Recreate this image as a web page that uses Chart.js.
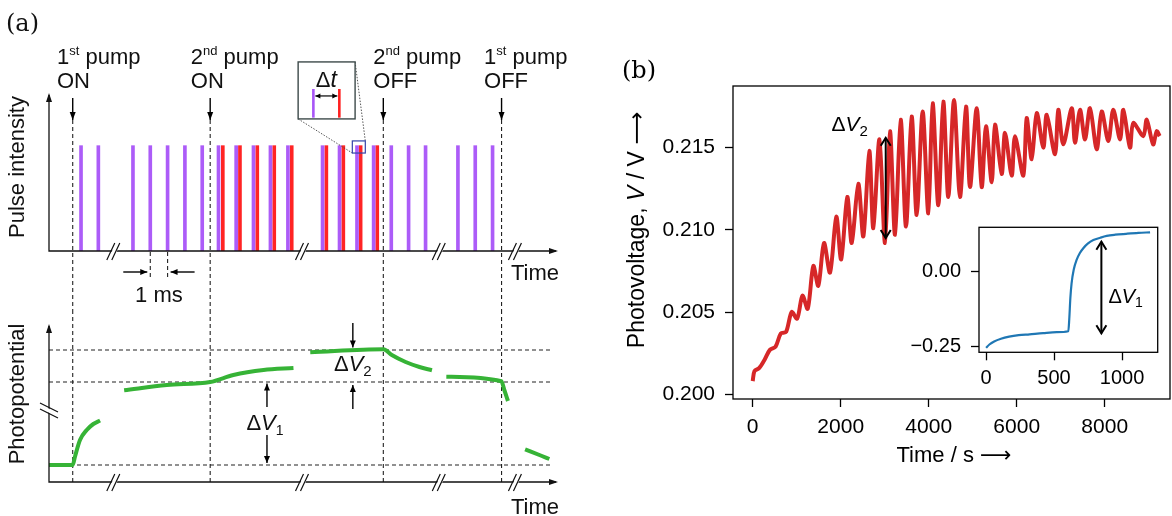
<!DOCTYPE html>
<html>
<head>
<meta charset="utf-8">
<script src="https://cdn.jsdelivr.net/npm/chart.js@4/dist/chart.umd.min.js"></script>
<style>
html, body { margin: 0; padding: 0; background: #fff; }
#wrap { position: relative; width: 1172px; height: 516px; overflow: hidden; }
canvas { position: absolute; }
</style>
</head>
<body>
<div id="wrap">
  <canvas id="pulse" width="600" height="310" style="left:0;top:0"></canvas>
  <canvas id="photo" width="600" height="206" style="left:0;top:310px"></canvas>
  <canvas id="volt" width="572" height="516" style="left:600px;top:0"></canvas>
  <canvas id="inset" width="292" height="220" style="left:880px;top:200px"></canvas>
</div>
<script>
// ---- (a) schéma : axe des temps en ms ----
const pumpEvents = [1.37, 9.31, 19.31, 26.14];
const pumpOrdinal = ['1', '2', '2', '1'];
const pumpSuffix = ['st', 'nd', 'nd', 'st'];
const pumpState = ['ON', 'ON', 'OFF', 'OFF'];
const pumpLabelX = [0.46, 8.19, 18.73, 25.13];
const purplePulses = [1.85, 2.85, 4.85, 5.85, 6.85, 7.85, 8.85, 9.79, 10.81, 11.81, 12.79, 13.8,
  15.8, 16.78, 17.79, 18.75, 19.77, 20.77, 21.75, 23.62, 24.62, 25.62];
const redPulses = [10.04, 11.03, 12.03, 13.01, 14.02, 16.02, 17.0, 18.0, 18.96];
const axisBreaks = [3.8, 14.7, 22.6, 27.0];
const oneMs = [5.85, 6.85];

// photopotentiel (unités arbitraires), null = trou
const greenT = [0, 1.37, 1.5, 1.79, 2.18, 2.56, 2.95, 3.6, 4.34, 6.8, 9.31, 10.65, 12.39, 14.12, 14.6,
  15.09, 19.32, 19.8, 20.6, 21.4, 22.12, 22.5, 22.95, 26.13, 26.3, 26.51, 27.0, 27.5, 28.4, 28.9];
const greenV = [0, 0, 0.83, 2.5, 3.5, 4.1, 4.45, null, 7.47, 8.0, 8.3, 9.0, 9.5, 9.7, null,
  11.27, 11.57, 11.0, 10.3, 9.8, 9.47, null, 8.83, 8.37, 7.5, 6.4, null, 1.57, 0.95, 0.6];
const levels = [0, 8.3, 11.5];

// ---- (b) photovoltage ----
const redT = [0, 40, 150, 270, 390, 520, 640, 760, 886, 1010, 1130, 1250, 1378, 1491, 1620, 1757,
  1900, 2010, 2150, 2250, 2400, 2514, 2650, 2741, 2880, 3007, 3120, 3234, 3363, 3484, 3613, 3727,
  3863, 3991, 4090, 4218, 4332, 4445, 4575, 4711, 4848, 4939, 5090, 5205, 5302, 5432, 5507, 5659,
  5734, 5886, 5961, 6150, 6227, 6341, 6455, 6605, 6682, 6870, 6945, 7059, 7250, 7325, 7439, 7552,
  7666, 7818, 7932, 8082, 8195, 8348, 8423, 8575, 8650, 8877, 8955, 9100, 9182, 9250];
const redV = [0.2008, 0.2014, 0.2016, 0.2021, 0.2027, 0.2029, 0.2037, 0.2038, 0.2050, 0.2046,
  0.2060, 0.2052, 0.2078, 0.2066, 0.2092, 0.2074, 0.2108, 0.2082, 0.2120, 0.2092, 0.2128, 0.2096,
  0.2148, 0.2101, 0.2155, 0.2092, 0.2160, 0.2097, 0.2167, 0.2102, 0.2169, 0.2109, 0.2172, 0.2110,
  0.2177, 0.2115, 0.2178, 0.2120, 0.2179, 0.2120, 0.2175, 0.2126, 0.2174, 0.2126, 0.2163, 0.2129,
  0.2164, 0.2134, 0.2159, 0.2133, 0.2157, 0.2133, 0.2168, 0.2143, 0.2171, 0.2150, 0.2170, 0.2146,
  0.2173, 0.2152, 0.2174, 0.2153, 0.2173, 0.2155, 0.2174, 0.2149, 0.2172, 0.2154, 0.2173, 0.2155,
  0.2173, 0.2150, 0.2165, 0.2157, 0.2167, 0.2152, 0.2160, 0.2157];
const voltXTicks = [0, 2000, 4000, 6000, 8000];
const voltYTicks = [0.200, 0.205, 0.210, 0.215];
const dV2 = { t: 3023, lo: 0.2095, hi: 0.2156 };

// encart
const blueT = [0, 25, 60, 110, 170, 240, 320, 420, 520, 605, 612, 620, 629, 645, 666, 690, 715, 750,
  789, 840, 887, 950, 1030, 1120, 1206];
const blueV = [-0.256, -0.245, -0.235, -0.226, -0.219, -0.214, -0.211, -0.207, -0.204, -0.201,
  -0.16, -0.09, -0.041, 0.005, 0.037, 0.060, 0.076, 0.092, 0.103, 0.111, 0.117, 0.121, 0.124,
  0.127, 0.129];
const insetXTicks = [0, 500, 1000];
const insetYTicks = [-0.25, 0];
const dV1 = { t: 848, lo: -0.2077, hi: 0.0977 };

const SANS = '"Liberation Sans", Arial, sans-serif';
const SERIF = '"DejaVu Serif", serif';
const f = (s, style) => (style || '') + ' ' + s + 'px ' + SANS;

// petits outils de dessin
function runs(ctx, x, y, parts, align) {
  let w = 0;
  parts.forEach(p => { ctx.font = p[1]; w += ctx.measureText(p[0]).width; });
  let cx = align === 'center' ? x - w / 2 : align === 'right' ? x - w : x;
  ctx.textAlign = 'left';
  ctx.textBaseline = 'alphabetic';
  parts.forEach(p => { ctx.font = p[1]; ctx.fillText(p[0], cx, y + (p[2] || 0)); cx += ctx.measureText(p[0]).width; });
}
function head(ctx, x, y, ang, len, wid, open) {
  ctx.save();
  ctx.translate(x, y); ctx.rotate(ang);
  ctx.beginPath();
  ctx.moveTo(-len, -wid); ctx.lineTo(0, 0); ctx.lineTo(-len, wid);
  if (open) { ctx.stroke(); } else { ctx.closePath(); ctx.fill(); }
  ctx.restore();
}
function arrow(ctx, x1, y1, x2, y2, opt) {
  opt = opt || {};
  ctx.save();
  ctx.strokeStyle = '#000'; ctx.fillStyle = '#000';
  ctx.lineWidth = opt.lw || 1.4;
  ctx.setLineDash([]);
  ctx.beginPath(); ctx.moveTo(x1, y1); ctx.lineTo(x2, y2); ctx.stroke();
  const a = Math.atan2(y2 - y1, x2 - x1);
  head(ctx, x2, y2, a, opt.len || 7, opt.wid || 3, opt.open);
  if (opt.both) head(ctx, x1, y1, a + Math.PI, opt.len || 7, opt.wid || 3, opt.open);
  ctx.restore();
}
function breakH(ctx, x, y) {
  ctx.save();
  ctx.fillStyle = '#fff';
  ctx.beginPath();
  ctx.moveTo(x - 7, y + 9); ctx.lineTo(x + 1, y - 8); ctx.lineTo(x + 6, y - 8); ctx.lineTo(x - 2, y + 9);
  ctx.closePath(); ctx.fill();
  ctx.strokeStyle = '#111'; ctx.lineWidth = 1.2;
  ctx.beginPath();
  ctx.moveTo(x - 8, y + 9); ctx.lineTo(x, y - 8);
  ctx.moveTo(x - 3, y + 9); ctx.lineTo(x + 5, y - 8);
  ctx.stroke();
  ctx.restore();
}
function breakV(ctx, x, y) {
  ctx.save();
  ctx.fillStyle = '#fff';
  ctx.beginPath();
  ctx.moveTo(x - 9, y - 6); ctx.lineTo(x + 8, y + 3); ctx.lineTo(x + 8, y + 7); ctx.lineTo(x - 9, y - 2);
  ctx.closePath(); ctx.fill();
  ctx.strokeStyle = '#111'; ctx.lineWidth = 1.2;
  ctx.beginPath();
  ctx.moveTo(x - 9, y - 7); ctx.lineTo(x + 9, y + 2);
  ctx.moveTo(x - 9, y - 1); ctx.lineTo(x + 9, y + 8);
  ctx.stroke();
  ctx.restore();
}
function axesWithArrows(ctx, area) {
  ctx.save();
  ctx.strokeStyle = '#111'; ctx.fillStyle = '#111'; ctx.lineWidth = 1.3;
  ctx.beginPath();
  ctx.moveTo(area.left, area.top + 2); ctx.lineTo(area.left, area.bottom); ctx.lineTo(area.right - 2, area.bottom);
  ctx.stroke();
  head(ctx, area.left, area.top, -Math.PI / 2, 9, 3, false);
  head(ctx, area.right, area.bottom, 0, 9, 3, false);
  ctx.restore();
}
function dashed(ctx, x1, y1, x2, y2) {
  ctx.save();
  ctx.strokeStyle = '#222'; ctx.lineWidth = 1.1; ctx.setLineDash([4, 3]);
  ctx.beginPath(); ctx.moveTo(x1, y1); ctx.lineTo(x2, y2); ctx.stroke();
  ctx.restore();
}

// ---- (a) haut : intensité des impulsions ----
const pulseDeco = {
  id: 'pulseDeco',
  beforeDatasetsDraw(chart) {
    const { ctx, scales: { x, y } } = chart;
    pumpEvents.forEach(t => dashed(ctx, x.getPixelForValue(t), y.getPixelForValue(1.244), x.getPixelForValue(t), chart.height));
    oneMs.forEach(t => dashed(ctx, x.getPixelForValue(t), y.getPixelForValue(0) + 1, x.getPixelForValue(t), y.getPixelForValue(0) + 26));
  },
  afterDraw(chart) {
    const { ctx, chartArea, scales: { x, y } } = chart;
    axesWithArrows(ctx, chartArea);
    axisBreaks.forEach(t => breakH(ctx, x.getPixelForValue(t), chartArea.bottom));
    ctx.fillStyle = '#111';
    // étiquettes des pompes
    pumpEvents.forEach((t, i) => {
      const px = x.getPixelForValue(t);
      arrow(ctx, px, y.getPixelForValue(1.5) + 5, px, y.getPixelForValue(1.244), { len: 8, wid: 3 });
      const lx = x.getPixelForValue(pumpLabelX[i]);
      ctx.fillStyle = '#111';
      runs(ctx, lx, 64, [[pumpOrdinal[i], f(22)], [pumpSuffix[i], f(13), -9], [' pump', f(22)]], 'left');
      runs(ctx, lx, 88, [[pumpState[i], f(22)]], 'left');
    });
    // repère 1 ms
    const b = y.getPixelForValue(0);
    arrow(ctx, x.getPixelForValue(oneMs[0]) - 27, b + 21, x.getPixelForValue(oneMs[0]) - 3, b + 21, { len: 7, wid: 3 });
    arrow(ctx, x.getPixelForValue(oneMs[1]) + 27, b + 21, x.getPixelForValue(oneMs[1]) + 3, b + 21, { len: 7, wid: 3 });
    ctx.fillStyle = '#111';
    runs(ctx, (x.getPixelForValue(oneMs[0]) + x.getPixelForValue(oneMs[1])) / 2, b + 51, [['1 ms', f(22)]], 'center');
    runs(ctx, chartArea.right - 47, b + 29, [['Time', f(22)]], 'left');
    // encart Δt
    const zx0 = x.getPixelForValue(17.52), zx1 = x.getPixelForValue(18.27);
    const zy0 = y.getPixelForValue(1.045), zy1 = y.getPixelForValue(0.93);
    const bx0 = x.getPixelForValue(14.39), bx1 = x.getPixelForValue(17.68);
    const by0 = y.getPixelForValue(1.795), by1 = y.getPixelForValue(1.254);
    ctx.save();
    ctx.strokeStyle = '#444'; ctx.lineWidth = 0.9; ctx.setLineDash([1.5, 1.5]);
    ctx.beginPath();
    ctx.moveTo(bx0, by1); ctx.lineTo(zx0, zy1);
    ctx.moveTo(bx1, by0); ctx.lineTo(zx1, zy0);
    ctx.stroke();
    ctx.setLineDash([]);
    ctx.strokeStyle = '#3344aa'; ctx.lineWidth = 1.2;
    ctx.strokeRect(zx0, zy0, zx1 - zx0, zy1 - zy0);
    ctx.fillStyle = '#fff'; ctx.fillRect(bx0, by0, bx1 - bx0, by1 - by0);
    ctx.strokeStyle = '#3d4a4a'; ctx.lineWidth = 1.4;
    ctx.strokeRect(bx0, by0, bx1 - bx0, by1 - by0);
    const p1 = x.getPixelForValue(15.27), p2 = x.getPixelForValue(16.77);
    ctx.fillStyle = '#a855f7'; ctx.fillRect(p1 - 1.3, y.getPixelForValue(1.538), 2.6, y.getPixelForValue(1.266) - y.getPixelForValue(1.538));
    ctx.fillStyle = '#ff2020'; ctx.fillRect(p2 - 1.3, y.getPixelForValue(1.538), 2.6, y.getPixelForValue(1.266) - y.getPixelForValue(1.538));
    ctx.restore();
    arrow(ctx, p1 + 2, y.getPixelForValue(1.472), p2 - 2, y.getPixelForValue(1.472), { both: true, len: 5, wid: 2.5, lw: 1.2 });
    ctx.fillStyle = '#111';
    runs(ctx, (p1 + p2) / 2, y.getPixelForValue(1.56), [['Δ', f(22)], ['t', f(23, 'italic')]], 'center');
    // titres
    ctx.save();
    ctx.translate(24, 167); ctx.rotate(-Math.PI / 2);
    runs(ctx, 0, 0, [['Pulse intensity', f(22)]], 'center');
    ctx.restore();
    ctx.font = '24px ' + SERIF; ctx.textAlign = 'left'; ctx.textBaseline = 'alphabetic';
    ctx.fillText('(a)', 6, 31);
  }
};

new Chart(document.getElementById('pulse'), {
  type: 'bar',
  data: {
    datasets: [
      { data: purplePulses.map(t => ({ x: t, y: 1 })), backgroundColor: '#ac5cf8', barThickness: 3, grouped: false },
      { data: redPulses.map(t => ({ x: t, y: 1 })), backgroundColor: '#ff2424', barThickness: 3, grouped: false }
    ]
  },
  options: {
    responsive: false, animation: false,
    layout: { padding: { left: 49, right: 42, top: 93, bottom: 59 } },
    plugins: { legend: { display: false }, tooltip: { enabled: false } },
    scales: {
      x: { type: 'linear', min: 0, max: 29.4, offset: false, display: false },
      y: { min: 0, max: 1.5, display: false }
    }
  },
  plugins: [pulseDeco]
});

// ---- (a) bas : photopotentiel ----
const photoDeco = {
  id: 'photoDeco',
  beforeDatasetsDraw(chart) {
    const { ctx, chartArea, scales: { x, y } } = chart;
    levels.forEach(v => dashed(ctx, chartArea.left, y.getPixelForValue(v), x.getPixelForValue(29.1), y.getPixelForValue(v)));
    pumpEvents.forEach(t => dashed(ctx, x.getPixelForValue(t), 0, x.getPixelForValue(t), chartArea.bottom));
  },
  afterDraw(chart) {
    const { ctx, chartArea, scales: { x, y } } = chart;
    axesWithArrows(ctx, chartArea);
    axisBreaks.forEach(t => breakH(ctx, x.getPixelForValue(t), chartArea.bottom));
    breakV(ctx, chartArea.left, y.getPixelForValue(5.5));
    // ΔV1
    const a1 = x.getPixelForValue(12.59);
    arrow(ctx, a1, y.getPixelForValue(5.8), a1, y.getPixelForValue(8.15), { len: 7, wid: 3 });
    arrow(ctx, a1, y.getPixelForValue(3.0), a1, y.getPixelForValue(0.2), { len: 7, wid: 3 });
    ctx.fillStyle = '#111';
    runs(ctx, a1 - 2, y.getPixelForValue(3.5), [['Δ', f(22)], ['V', f(22, 'italic')], ['1', f(14), 5]], 'center');
    // ΔV2
    const a2 = x.getPixelForValue(17.55);
    arrow(ctx, a2, y.getPixelForValue(14.2), a2, y.getPixelForValue(11.75), { len: 7, wid: 3 });
    arrow(ctx, a2, y.getPixelForValue(5.6), a2, y.getPixelForValue(8.0), { len: 7, wid: 3 });
    ctx.fillStyle = '#111';
    runs(ctx, a2, y.getPixelForValue(9.4), [['Δ', f(22)], ['V', f(22, 'italic')], ['2', f(15), 5]], 'center');
    runs(ctx, chartArea.right - 47, chart.height - 2, [['Time', f(22)]], 'left');
    ctx.save();
    ctx.translate(24, 84); ctx.rotate(-Math.PI / 2);
    runs(ctx, 0, 0, [['Photopotential', f(22)]], 'center');
    ctx.restore();
  }
};

new Chart(document.getElementById('photo'), {
  type: 'line',
  data: {
    datasets: [{
      data: greenT.map((t, i) => ({ x: t, y: greenV[i] })),
      borderColor: '#36b336', borderWidth: 4, pointRadius: 0,
      cubicInterpolationMode: 'monotone', spanGaps: false
    }]
  },
  options: {
    responsive: false, animation: false,
    layout: { padding: { left: 49, right: 42, top: 14, bottom: 34 } },
    plugins: { legend: { display: false }, tooltip: { enabled: false } },
    scales: {
      x: { type: 'linear', min: 0, max: 29.4, display: false },
      y: { min: -1.7, max: 14.1, display: false }
    }
  },
  plugins: [photoDeco]
});

// ---- (b) ----
function tickScale(list, fmt, size, pad, opts) {
  return Object.assign({
    afterBuildTicks: s => { s.ticks = list.map(v => ({ value: v })); },
    ticks: { color: '#000', font: { family: SANS, size: size }, padding: pad, maxRotation: 0, autoSkip: false, callback: fmt },
    grid: { drawOnChartArea: false, drawTicks: true, tickLength: 8, tickColor: '#000', tickWidth: 1.3, color: 'rgba(0,0,0,0)' },
    border: { display: false }
  }, opts);
}
const frame = {
  id: 'frame',
  beforeDraw(chart) {
    if (chart.canvas.id === 'inset') {
      const a = chart.chartArea;
      chart.ctx.fillStyle = '#fff';
      chart.ctx.fillRect(a.left, a.top, a.right - a.left, a.bottom - a.top);
    }
  },
  afterDraw(chart) {
    const { ctx, chartArea: a } = chart;
    ctx.save();
    ctx.strokeStyle = '#000'; ctx.lineWidth = 1.3;
    ctx.strokeRect(a.left, a.top, a.right - a.left, a.bottom - a.top);
    ctx.restore();
  }
};
const voltDeco = {
  id: 'voltDeco',
  afterDraw(chart) {
    const { ctx, scales: { x, y } } = chart;
    const px = x.getPixelForValue(dV2.t);
    arrow(ctx, px, y.getPixelForValue(dV2.lo), px, y.getPixelForValue(dV2.hi), { both: true, open: true, len: 8, wid: 5, lw: 2 });
    ctx.fillStyle = '#000';
    runs(ctx, px - 36, y.getPixelForValue(0.2160), [['Δ', f(21)], ['V', f(21, 'italic')], ['2', f(15), 5]], 'center');
    runs(ctx, 354, 462, [['Time / s ', f(22)], ['⟶', '22px "DejaVu Sans"']], 'center');
    ctx.save();
    ctx.translate(44, 230); ctx.rotate(-Math.PI / 2);
    runs(ctx, 0, 0, [['Photovoltage, ', f(23)], ['V', f(23, 'italic')], [' / V ', f(23)], ['⟶', '23px "DejaVu Sans"']], 'center');
    ctx.restore();
    ctx.font = '24px ' + SERIF; ctx.textAlign = 'left'; ctx.textBaseline = 'alphabetic';
    ctx.fillText('(b)', 22, 78);
  }
};

new Chart(document.getElementById('volt'), {
  type: 'line',
  data: {
    datasets: [{
      data: redT.map((t, i) => ({ x: t, y: redV[i] })),
      borderColor: '#d62728', borderWidth: 4, pointRadius: 0, tension: 0.3, borderJoinStyle: 'round'
    }]
  },
  options: {
    responsive: false, animation: false,
    layout: { padding: { left: 33, right: 2, top: 86, bottom: 37 } },
    plugins: { legend: { display: false }, tooltip: { enabled: false } },
    scales: {
      x: tickScale(voltXTicks, v => String(v), 21, 8, { type: 'linear', min: -448, max: 9484, afterFit: s => { s.height = 80; } }),
      y: tickScale(voltYTicks, v => v.toFixed(3), 21, 10, { min: 0.19971, max: 0.21875, afterFit: s => { s.width = 100; } })
    }
  },
  plugins: [frame, voltDeco]
});

const insetDeco = {
  id: 'insetDeco',
  afterDraw(chart) {
    const { ctx, scales: { x, y } } = chart;
    const px = x.getPixelForValue(dV1.t);
    arrow(ctx, px, y.getPixelForValue(dV1.lo), px, y.getPixelForValue(dV1.hi), { both: true, open: true, len: 8, wid: 5, lw: 2 });
    ctx.fillStyle = '#000';
    runs(ctx, px + 7, y.getPixelForValue(-0.087) + 6, [['Δ', f(20)], ['V', f(20, 'italic')], ['1', f(14), 4]], 'left');
  }
};

new Chart(document.getElementById('inset'), {
  type: 'line',
  data: {
    datasets: [{
      data: blueT.map((t, i) => ({ x: t, y: blueV[i] })),
      borderColor: '#1f77b4', borderWidth: 2.2, pointRadius: 0, cubicInterpolationMode: 'monotone'
    }]
  },
  options: {
    responsive: false, animation: false,
    layout: { padding: { left: 19, right: 14.3, top: 27.3, bottom: 17.7 } },
    plugins: { legend: { display: false }, tooltip: { enabled: false } },
    scales: {
      x: tickScale(insetXTicks, v => String(v), 20, 6, { type: 'linear', min: -51.5, max: 1262, afterFit: s => { s.height = 50; } }),
      y: tickScale(insetYTicks, v => v.toFixed(2).replace('-', '\u2212'), 20, 10, { min: -0.271, max: 0.1457, afterFit: s => { s.width = 80; } })
    }
  },
  plugins: [frame, insetDeco]
});
</script>
</body>
</html>
